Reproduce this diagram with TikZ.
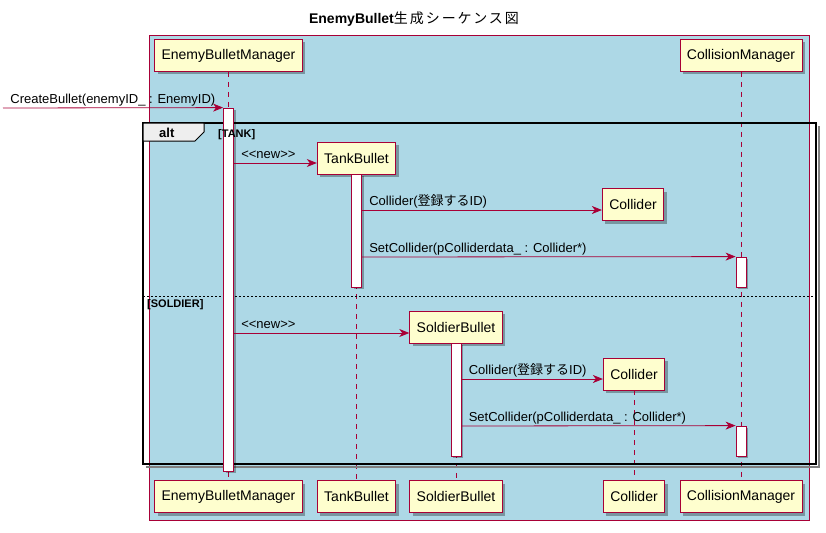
\documentclass[tikz,border=0pt]{standalone}
\usepackage{fontspec}
\setmainfont{Liberation Sans}
\newfontfamily\cjk{Noto Sans CJK JP}
\newfontfamily\cjkt[LetterSpace=14]{Noto Sans CJK JP}
\usetikzlibrary{arrows.meta,shadows}
\definecolor{umlred}{HTML}{A80036}
\definecolor{umlbox}{HTML}{FEFECE}
\definecolor{umlblue}{HTML}{ADD8E6}
\definecolor{umltab}{HTML}{EEEEEE}

\begin{document}
\begin{tikzpicture}[x=1pt,y=-1pt,
  part/.style={draw=umlred,fill=umlbox,line width=0.8pt,font=\fontsize{14}{16}\selectfont,inner xsep=7pt,minimum height=32pt,drop shadow={shadow xshift=3pt,shadow yshift=-3pt,fill=black,opacity=.3}},
  bar/.style={draw=umlred,fill=white,line width=0.8pt,minimum width=10pt,inner sep=0pt,drop shadow={shadow xshift=2pt,shadow yshift=-2pt,fill=black,opacity=.3}},
  life/.style={draw=umlred,line width=0.8pt,dash pattern=on 5pt off 5pt},
  msg/.style={draw=umlred,line width=0.8pt,-{Stealth[length=10pt,width=8pt,inset=3pt]}},
  lbl/.style={anchor=base west,font=\fontsize{13}{15}\selectfont,inner sep=0pt,xshift=7pt,yshift=5pt},
  cond/.style={anchor=base west,font=\fontsize{11}{13}\selectfont\bfseries,inner sep=0pt}]
\useasboundingbox (0,0) rectangle (826,532);
\node[font=\fontsize{14}{16}\selectfont\bfseries] (title) at (414,19) {EnemyBullet{\cjkt\mdseries 生成シーケンス図}};
\draw[draw=umlred,fill=umlblue,line width=0.8pt] (149,35) rectangle (809,520);

\node[part] (ebmT) at (228.5,55.5) {EnemyBulletManager};
\node[part] (ebmB) at (228.5,496.5) {EnemyBulletManager};
\node[part] (cmT) at (741,55.5) {CollisionManager};
\node[part] (cmB) at (741,496.5) {CollisionManager};
\node[part] (tbT) at (356.5,158) {TankBullet};
\node[part] (tbB) at (356.5,496.5) {TankBullet};
\node[part] (colA) at (633,204.5) {Collider};
\node[part] (sbT) at (456,327) {SoldierBullet};
\node[part] (sbB) at (456,496.5) {SoldierBullet};
\node[part] (colS) at (634,374) {Collider};
\node[part] (colB) at (634,496.5) {Collider};

\draw[life] (ebmT) -- (ebmB);
\draw[life] (cmT) -- (cmB);
\draw[life] (tbT) -- (tbB);
\draw[life] (sbT) -- (sbB);
\draw[life] (colS) -- (colB);

\draw[gray,line width=1.5pt] (819,126) -- (819,467) -- (146,467);
\draw[line width=1.5pt] (143,123) rectangle (816,464);
\draw[line width=1pt,fill=umltab] (143,123) -- (204,123) -- (204,132) -- (195,141) -- (143,141) -- cycle;
\node[font=\fontsize{13}{15}\selectfont\bfseries,anchor=base west,inner sep=0pt] (alt) at (159,137) {alt};
\draw[dash pattern=on 2pt off 2pt] (143,296) -- (816,296);

\node[bar,minimum height=363pt] (ebmAct) at (228.5,289.5) {};
\node[bar,minimum height=113pt] (tbAct) at (356.5,230.5) {};
\node[bar,minimum height=30pt] (cmAct1) at (741,272) {};
\node[bar,minimum height=113pt] (sbAct) at (456,399.5) {};
\node[bar,minimum height=30pt] (cmAct2) at (741,441) {};
\node[cond] (tank) at (218,137) {[TANK]};
\node[cond] (soldier) at (147,307) {[SOLDIER]};

\coordinate (src) at (3,108);
\draw[msg] (src) -- node[lbl,pos=0] {CreateBullet(enemyID\_ : EnemyID)} (ebmAct.north west);
\draw[msg] (ebmAct.east |- 0,163) -- node[lbl,pos=0] {{<}{<}new{>}{>}} (tbT.west |- 0,163);
\draw[msg] (tbAct.east |- 0,210) -- node[lbl,pos=0] {Collider({\cjk 登録する}ID)} (colA.west |- 0,210);
\draw[msg] (tbAct.east |- 0,257) -- node[lbl,pos=0] {SetCollider(pColliderdata\_ : Collider*)} (cmAct1.north west);
\draw[msg] (ebmAct.east |- 0,333) -- node[lbl,pos=0] {{<}{<}new{>}{>}} (sbT.west |- 0,333);
\draw[msg] (sbAct.east |- 0,379) -- node[lbl,pos=0] {Collider({\cjk 登録する}ID)} (colS.west |- 0,379);
\draw[msg] (sbAct.east |- 0,426) -- node[lbl,pos=0] {SetCollider(pColliderdata\_ : Collider*)} (cmAct2.north west);
\end{tikzpicture}
\end{document}
